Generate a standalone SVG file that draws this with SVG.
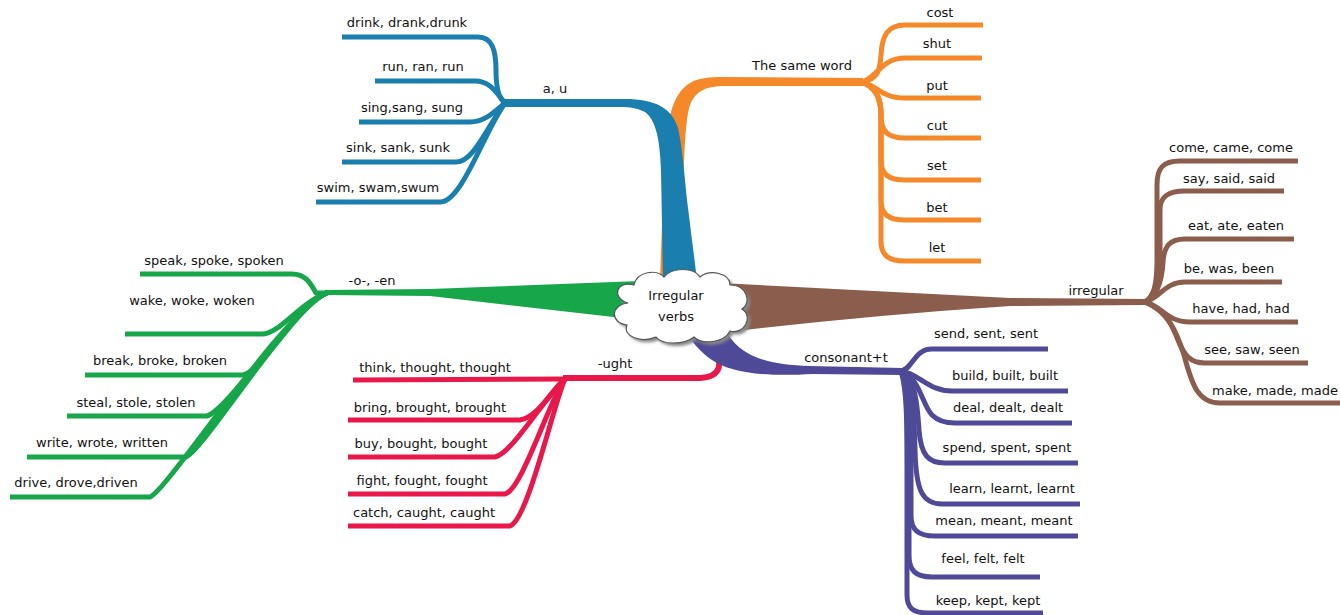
<svg xmlns="http://www.w3.org/2000/svg" width="1340" height="615" viewBox="0 0 1340 615">
<defs>
<style>
text{font-family:"DejaVu Sans","Liberation Sans",sans-serif;font-size:13px;fill:#111;text-anchor:middle}
.lf{fill:none;stroke-width:5;stroke-linecap:butt;stroke-linejoin:round}
.b{stroke:#1a7fae}.o{stroke:#f5892a}.br{stroke:#8b5d4d}.g{stroke:#17a64a}.r{stroke:#e8194a}.p{stroke:#4f4a98}
</style>
<filter id="sh" x="-20%" y="-20%" width="140%" height="140%"><feGaussianBlur stdDeviation="1.5"/></filter>
</defs>
<rect width="1340" height="615" fill="#fff"/>
<g id="connectors">
<!-- orange trunk -->
<path d="M660 280 L664 170 C666 120 672 94 690 83 C698 78 708 77 725 77 L863 78 L863 86 L725 86 C705 86 695 92 690 105 C685 120 684 160 683 200 L678 280 Z" fill="#f5892a"/>
<!-- blue trunk -->
<path d="M503 99 L625 99 C655 99 672 108 678 128 C682 145 684 170 687 200 L697 280 L663 280 L661 170 C660 140 656 120 645 112 C637 108 630 107 620 107 L503 107 Z" fill="#1a7fae"/>
<!-- green wedge -->
<path d="M640 281 L430 289 L325 290 L325 295 L430 296 L640 320 Z" fill="#17a64a"/>
<!-- brown wedge -->
<path d="M720 283 L1010 298 L1147 299 L1147 305 L1010 306 Q860 316 720 333 Z" fill="#8b5d4d"/>
<!-- red main -->
<path class="lf r" style="stroke-width:6" d="M712 345 C724 362 722 377 700 378 L563 378"/>
<!-- purple trunk -->
<path d="M683 328 L725 328 C735 352 760 365 810 366 L903 368 L903 375 L813 374 C760 377 730 372 712 360 C700 352 692 342 683 328 Z" fill="#4f4a98"/>
<!-- blue leaves -->
<path class="lf b" d="M342 37 L478 37 C492 37 496 50 496 70 C496 90 499 99 505 103"/>
<path class="lf b" d="M375 81 L475 81 C490 81 496 92 505 103"/>
<path class="lf b" d="M359 122 L470 122 C485 122 494 112 505 103"/>
<path class="lf b" d="M342 162 L456 162 C474 162 488 125 505 103"/>
<path class="lf b" d="M316 202 L440 202 C462 202 484 132 505 103"/>
<!-- orange leaves -->
<path class="lf o" d="M861 82 C878 80 880 70 881 55 C882 35 888 25 905 25 L983 25"/>
<path class="lf o" d="M861 82 C876 80 880 58 905 58 L982 58"/>
<path class="lf o" d="M861 82 C876 84 880 98 905 98 L981 98"/>
<path class="lf o" d="M861 82 C876 86 881 98 881 115 C881 132 888 138 905 138 L981 138"/>
<path class="lf o" d="M861 82 C876 86 881 98 881 115 L881 160 C881 174 888 180 905 180 L981 180"/>
<path class="lf o" d="M861 82 C876 86 881 98 881 115 L881 200 C881 214 888 220 905 220 L981 220"/>
<path class="lf o" d="M861 82 C876 86 881 98 881 115 L881 241 C881 255 888 261 905 261 L981 261"/>
<!-- brown leaves -->
<path class="lf br" d="M1145 302 C1154 296 1157 285 1157 260 L1157 185 C1157 168 1163 161 1180 161 L1298 161"/>
<path class="lf br" d="M1145 302 C1156 296 1160 285 1160 260 L1160 210 C1160 197 1168 191 1185 191 L1284 191"/>
<path class="lf br" d="M1145 302 C1158 296 1162 280 1163 262 C1164 246 1170 239 1185 239 L1294 239"/>
<path class="lf br" d="M1145 302 C1160 298 1165 282 1185 282 L1282 282"/>
<path class="lf br" d="M1145 302 C1162 306 1166 322 1190 322 L1298 322"/>
<path class="lf br" d="M1145 302 C1166 310 1172 325 1178 340 C1184 355 1190 363 1205 363 L1308 363"/>
<path class="lf br" d="M1145 302 C1168 312 1176 330 1184 355 C1192 385 1198 403 1220 403 L1340 403"/>
<!-- green leaves -->
<path class="lf g" d="M140 274 L292 274 C305 274 310 282 316 293 L327 293"/>
<path class="lf g" d="M125 334 L262 334 C280 334 300 302 327 293"/>
<path class="lf g" d="M85 375 L243 375 C262 372 300 302 327 293"/>
<path class="lf g" d="M67 416 L207 416 C228 410 298 304 327 293"/>
<path class="lf g" d="M27 457 L186 457 C204 450 292 306 327 293"/>
<path class="lf g" d="M10 497 L150 497 C168 490 286 308 327 293"/>
<!-- red leaves -->
<path class="lf r" d="M353 380 L565 379"/>
<path class="lf r" d="M348 420 L520 420 C538 417 552 390 565 379"/>
<path class="lf r" d="M348 457 L495 457 C512 454 546 395 565 379"/>
<path class="lf r" d="M348 494 L505 494 C522 490 550 398 565 379"/>
<path class="lf r" d="M348 526 L510 526 C528 520 554 402 565 379"/>
<!-- purple leaves -->
<path class="lf p" d="M901 371 C913 369 914 349 932 349 L1048 349"/>
<path class="lf p" d="M901 371 C920 374 928 391 952 391 L1068 391"/>
<path class="lf p" d="M901 371 C920 378 922 405 932 415 C938 421 945 423 955 423 L1072 423"/>
<path class="lf p" d="M901 371 C915 380 917 400 919 430 C921 455 928 463 945 463 L1078 463"/>
<path class="lf p" d="M901 371 C912 382 914 410 915 450 C916 490 922 504 942 504 L1080 504"/>
<path class="lf p" d="M901 371 C910 385 911 420 911 460 L911 515 C911 530 918 536 935 536 L1078 536"/>
<path class="lf p" d="M901 371 C908 388 909 420 909 470 L909 555 C909 570 915 577 932 577 L1040 577"/>
<path class="lf p" d="M901 371 C907 390 907 420 907 480 L907 595 C907 608 913 613 928 613 L1043 613"/>
</g>
<g id="center">
<path d="M628 303 C611 298 616 280 634 285 C637 271 657 269 664 277 C672 267 694 267 700 277 C710 269 730 273 730 285 C747 285 752 303 742 309 C754 317 744 335 730 331 C724 343 702 345 694 337 C684 345 662 345 656 337 C642 343 622 337 627 325 C610 323 610 305 628 303 Z" fill="#888" filter="url(#sh)" transform="translate(3,3)"/>
<path d="M628 303 C611 298 616 280 634 285 C637 271 657 269 664 277 C672 267 694 267 700 277 C710 269 730 273 730 285 C747 285 752 303 742 309 C754 317 744 335 730 331 C724 343 702 345 694 337 C684 345 662 345 656 337 C642 343 622 337 627 325 C610 323 610 305 628 303 Z" fill="#fff" stroke="#555" stroke-width="1.2"/>
<text x="676" y="300">Irregular</text>
<text x="676" y="321">verbs</text>
</g>
<g id="branch-au"><text x="555" y="93">a, u</text></g>
<g id="leaf-drink"><text x="407" y="27">drink, drank,drunk</text></g>
<g id="leaf-run"><text x="423" y="71">run, ran, run</text></g>
<g id="leaf-sing"><text x="412" y="112">sing,sang, sung</text></g>
<g id="leaf-sink"><text x="398" y="152">sink, sank, sunk</text></g>
<g id="leaf-swim"><text x="378" y="192">swim, swam,swum</text></g>
<g id="branch-same"><text x="802" y="70">The same word</text></g>
<g id="leaf-cost"><text x="940" y="17">cost</text></g>
<g id="leaf-shut"><text x="937" y="48">shut</text></g>
<g id="leaf-put"><text x="937" y="90">put</text></g>
<g id="leaf-cut"><text x="937" y="130">cut</text></g>
<g id="leaf-set"><text x="937" y="170">set</text></g>
<g id="leaf-bet"><text x="937" y="212">bet</text></g>
<g id="leaf-let"><text x="937" y="252">let</text></g>
<g id="branch-irregular"><text x="1096" y="295">irregular</text></g>
<g id="leaf-come"><text x="1231" y="152">come, came, come</text></g>
<g id="leaf-say"><text x="1229" y="183">say, said, said</text></g>
<g id="leaf-eat"><text x="1236" y="230">eat, ate, eaten</text></g>
<g id="leaf-be"><text x="1229" y="273">be, was, been</text></g>
<g id="leaf-have"><text x="1241" y="313">have, had, had</text></g>
<g id="leaf-see"><text x="1252" y="354">see, saw, seen</text></g>
<g id="leaf-make"><text x="1275" y="395">make, made, made</text></g>
<g id="branch-oen"><text x="372" y="285">-o-, -en</text></g>
<g id="leaf-speak"><text x="214" y="265">speak, spoke, spoken</text></g>
<g id="leaf-wake"><text x="192" y="305">wake, woke, woken</text></g>
<g id="leaf-break"><text x="160" y="365">break, broke, broken</text></g>
<g id="leaf-steal"><text x="136" y="407">steal, stole, stolen</text></g>
<g id="leaf-write"><text x="102" y="447">write, wrote, written</text></g>
<g id="leaf-drive"><text x="76" y="487">drive, drove,driven</text></g>
<g id="branch-ught"><text x="615" y="368">-ught</text></g>
<g id="leaf-think"><text x="435" y="372">think, thought, thought</text></g>
<g id="leaf-bring"><text x="430" y="412">bring, brought, brought</text></g>
<g id="leaf-buy"><text x="421" y="448">buy, bought, bought</text></g>
<g id="leaf-fight"><text x="422" y="485">fight, fought, fought</text></g>
<g id="leaf-catch"><text x="424" y="517">catch, caught, caught</text></g>
<g id="branch-consonant"><text x="846" y="362">consonant+t</text></g>
<g id="leaf-send"><text x="986" y="338">send, sent, sent</text></g>
<g id="leaf-build"><text x="1005" y="380">build, built, built</text></g>
<g id="leaf-deal"><text x="1008" y="412">deal, dealt, dealt</text></g>
<g id="leaf-spend"><text x="1007" y="452">spend, spent, spent</text></g>
<g id="leaf-learn"><text x="1012" y="493">learn, learnt, learnt</text></g>
<g id="leaf-mean"><text x="1004" y="525">mean, meant, meant</text></g>
<g id="leaf-feel"><text x="983" y="563">feel, felt, felt</text></g>
<g id="leaf-keep"><text x="988" y="605">keep, kept, kept</text></g>
</svg>
